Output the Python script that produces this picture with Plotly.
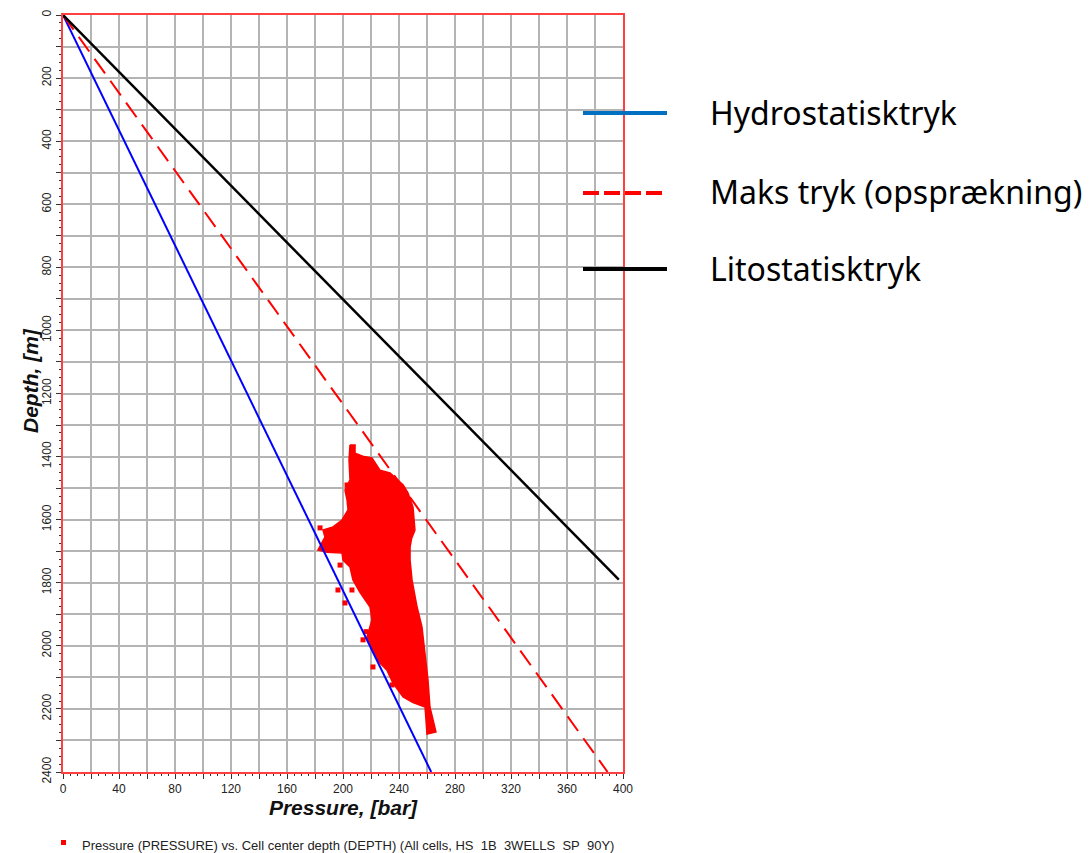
import plotly.graph_objects as go

# ---------------- data ----------------
hydro_depth = [0, 2400]
hydro_pressure = [0, 263]

frac_depth = [0, 2400]
frac_pressure = [0, 389]

litho_depth = [0, 1790]
litho_pressure = [0, 397]

# outline of the simulated cell-pressure cloud
cluster_pressure = [205.0, 208.6, 208.6, 215.0, 220.7, 226.4, 233.6, 239.3, 243.0, 246.4,
                    250.0, 251.4, 249.0, 247.9, 247.9, 249.3, 252.9, 256.4, 258.6, 260.7,
                    262.1, 266.4, 260.0, 258.6, 250.0, 242.9, 235.7, 231.4, 224.3, 220.7,
                    217.1, 220.7, 219.3, 212.0, 207.1, 205.0, 200.0, 199.3, 188.6, 182.1,
                    187.1, 185.7, 192.9, 199.3, 203.6, 202.9, 201.4, 205.0, 204.3, 205.0]
cluster_depth = [1363, 1363, 1389, 1400, 1404, 1443, 1452, 1474, 1490, 1515,
                 1560, 1633, 1660, 1687, 1728, 1791, 1877, 1940, 2023, 2108,
                 2194, 2273, 2280, 2194, 2180, 2162, 2118, 2077, 2045, 2013,
                 1972, 1918, 1877, 1830, 1791, 1750, 1728, 1706, 1703, 1696,
                 1655, 1633, 1623, 1601, 1569, 1538, 1506, 1474, 1411, 1363]

# isolated cells outside the main cloud
outlier_pressure = [183.6, 197.9, 196.4, 206.4, 201.4, 214.3, 216.4, 221.4, 235.0, 202.9]
outlier_depth = [1626, 1744, 1823, 1823, 1864, 1981, 1955, 2067, 2124, 1490]

x_tickvals = list(range(0, 401, 20))
x_ticktext = ["0", "", "40", "", "80", "", "120", "", "160", "", "200", "", "240", "",
              "280", "", "320", "", "360", "", "400"]
y_tickvals = list(range(0, 2401, 100))
y_ticktext = ["0", "", "200", "", "400", "", "600", "", "800", "", "1000", "", "1200", "",
              "1400", "", "1600", "", "1800", "", "2000", "", "2200", "", "2400"]

legend_names = ["Hydrostatisktryk", "Maks tryk (opsprækning)", "Litostatisktryk"]
caption = ("Pressure (PRESSURE) vs. Cell center depth (DEPTH) "
           "(All cells, HS\u00a0 1B\u00a0 3WELLS\u00a0 SP\u00a0 90Y)")

# ---------------- figure ----------------
fig = go.Figure()

fig.add_trace(go.Scatter(x=cluster_pressure, y=cluster_depth, mode="lines",
                         fill="toself", fillcolor="#ff0000",
                         line=dict(color="#ff0000", width=1.5),
                         showlegend=False, hoverinfo="skip"))
fig.add_trace(go.Scatter(x=outlier_pressure, y=outlier_depth, mode="markers",
                         marker=dict(symbol="square", size=5, color="#ff0000"),
                         name=caption, showlegend=False))

fig.add_trace(go.Scatter(x=hydro_pressure, y=hydro_depth, mode="lines",
                         line=dict(color="#0000ff", width=2), showlegend=False))
fig.add_trace(go.Scatter(x=frac_pressure, y=frac_depth, mode="lines",
                         line=dict(color="#ff0000", width=2, dash="18px,9px"),
                         showlegend=False))
fig.add_trace(go.Scatter(x=litho_pressure, y=litho_depth, mode="lines",
                         line=dict(color="#000000", width=2.5), showlegend=False))

# ---------------- layout ----------------
W, H = 1089, 853
L, R, T, B = 63, 466, 15, 81
pw = W - L - R
ph = H - T - B


def px_x(px):
    return (px - L) / pw


def px_y(py):
    return 1 - (py - T) / ph


tickfont = dict(family="Liberation Sans, Arial", size=12, color="#222222")
titlefont = dict(family="Liberation Sans, Arial", size=21, color="#111111",
                 style="italic", weight="bold")

fig.update_layout(
    width=W, height=H,
    margin=dict(l=L, r=R, t=T, b=B, autoexpand=False),
    paper_bgcolor="white", plot_bgcolor="white",
    showlegend=False,
)

fig.update_xaxes(
    range=[0, 400], tickmode="array", tickvals=x_tickvals, ticktext=x_ticktext,
    showgrid=True, gridcolor="#b4b4b4", gridwidth=1.5, zeroline=False,
    showline=True, linecolor="#ff4040", linewidth=1.5, mirror=True,
    ticks="outside", ticklen=5, tickcolor="#333333", tickfont=tickfont,
    minor=dict(tickmode="linear", tick0=0, dtick=5, ticks="outside", ticklen=2,
               tickcolor="#333333", showgrid=False),
    title=dict(text="Pressure, [bar]", font=titlefont, standoff=4),
    automargin=False,
)
fig.update_yaxes(
    range=[2400, 0], tickmode="array", tickvals=y_tickvals, ticktext=y_ticktext,
    showgrid=True, gridcolor="#b4b4b4", gridwidth=1.5, zeroline=False,
    showline=True, linecolor="#ff4040", linewidth=1.5, mirror=True,
    ticks="outside", ticklen=5, tickcolor="#333333", tickfont=tickfont, tickangle=-90,
    minor=dict(tickmode="linear", tick0=0, dtick=25, ticks="outside", ticklen=2,
               tickcolor="#333333", showgrid=False),
    automargin=False,
)

# y-axis title placed as in the original
fig.add_annotation(xref="paper", yref="paper", x=px_x(30), y=px_y(381),
                   xanchor="center", yanchor="middle", text="Depth, [m]",
                   textangle=-90, showarrow=False, font=titlefont)

# custom legend on the right
legend_colors = ["#0070c0", "#ff0000", "#000000"]
legend_dash = ["solid", "16px,5px", "solid"]
legend_y_px = [113, 193, 269]
legend_x_end = [667, 663, 667]
for name, col, dsh, ypx, xe in zip(legend_names, legend_colors, legend_dash, legend_y_px, legend_x_end):
    fig.add_shape(type="line", xref="paper", yref="paper",
                  x0=px_x(583), x1=px_x(xe), y0=px_y(ypx), y1=px_y(ypx),
                  line=dict(color=col, width=4, dash=dsh))
    fig.add_annotation(xref="paper", yref="paper", x=px_x(708), y=px_y(ypx - 1),
                       xanchor="left", yanchor="middle", text=name, showarrow=False,
                       font=dict(family="Noto Sans", size=32, color="#000000"))

# caption below the chart (series key for the cell data)
fig.add_shape(type="rect", xref="paper", yref="paper",
              x0=px_x(61), x1=px_x(66), y0=px_y(845), y1=px_y(840),
              fillcolor="#ff0000", line=dict(width=0))
fig.add_annotation(xref="paper", yref="paper", x=px_x(80), y=px_y(845),
                   xanchor="left", yanchor="middle", text=caption, showarrow=False,
                   font=dict(family="Liberation Sans, Arial", size=13, color="#222222"))

fig.write_html("out.html")
